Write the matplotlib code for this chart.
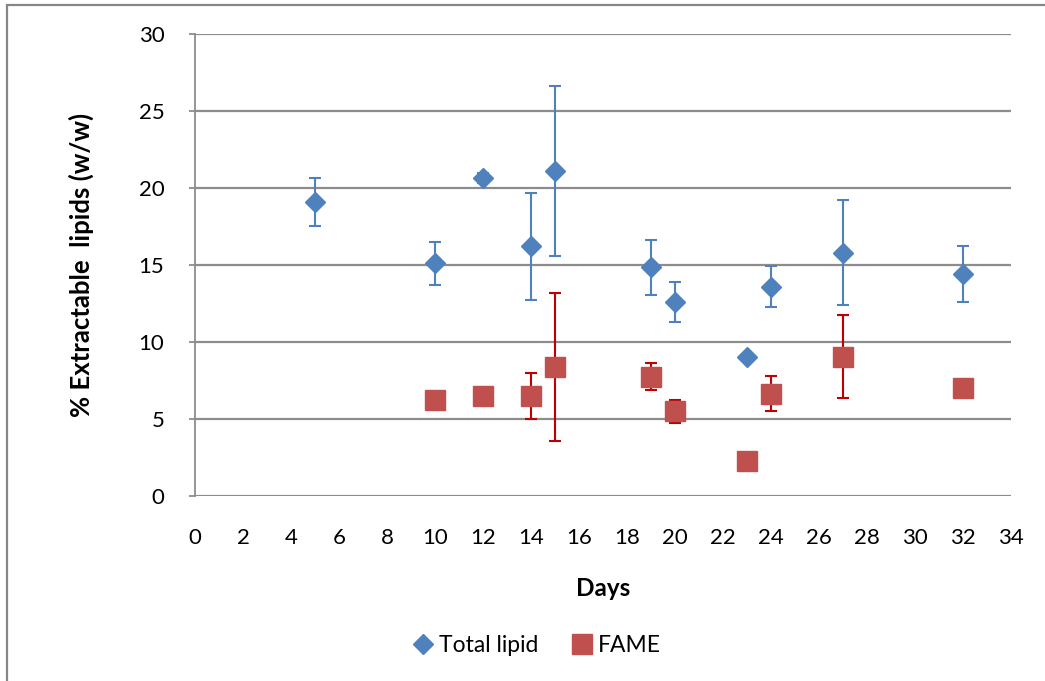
import numpy as np
import matplotlib.pyplot as plt
from matplotlib.patches import Rectangle

plt.rcParams['font.family'] = ['Lato', 'DejaVu Sans']

# total lipid (mean, sd) by day
lipid_days = [5, 10, 12, 14, 15, 19, 20, 23, 24, 27, 32]
lipid_mean = [19.1, 15.1, 20.65, 16.2, 21.1, 14.85, 12.6, 9.05, 13.6, 15.8, 14.4]
lipid_err = [1.55, 1.4, 0.3, 3.5, 5.5, 1.8, 1.3, 0.0, 1.35, 3.4, 1.8]

# FAME (mean, sd) by day
fame_days = [10, 12, 14, 15, 19, 20, 23, 24, 27, 32]
fame_mean = [6.2, 6.5, 6.5, 8.4, 7.75, 5.5, 2.3, 6.65, 9.05, 7.0]
fame_err = [0.0, 0.0, 1.5, 4.8, 0.9, 0.75, 0.0, 1.15, 2.7, 0.35]

xticks = np.arange(0, 35, 2)
yticks = np.arange(0, 31, 5)

blue = '#4F81BD'
red = '#C0504D'

fig = plt.figure(figsize=(10.45, 6.81), dpi=100)
ax = fig.add_axes([0.1866, 0.2717, 0.7809, 0.6784])

# chart border
fig.patches.append(Rectangle((0.0067, -0.05), 1.1, 1.0427, transform=fig.transFigure,
                             fill=False, edgecolor='#878787', linewidth=1.6))

ax.errorbar(lipid_days, lipid_mean, yerr=lipid_err, fmt='D', color=blue,
            markersize=10.2, ecolor=blue, elinewidth=1.5, capsize=4.5, capthick=1.5,
            label='Total lipid', zorder=3)
ax.errorbar(fame_days, fame_mean, yerr=fame_err, fmt='s', color=red,
            markersize=14.4, ecolor='#C00000', elinewidth=1.5, capsize=4.5, capthick=1.5,
            label='FAME', zorder=3)

ax.set_xlim(0, 34)
ax.set_ylim(0, 30)
ax.set_xticks(xticks)
ax.set_yticks(yticks)
ax.grid(axis='y', color='#8C8C8C', linewidth=1.6)
ax.set_axisbelow(True)
for s in ['top', 'right', 'bottom']:
    ax.spines[s].set_visible(False)
ax.spines['left'].set_color('#8C8C8C')
ax.spines['left'].set_linewidth(1.3)
ax.tick_params(axis='x', length=0, pad=23, labelsize=16)
ax.tick_params(axis='y', length=4, color='#8C8C8C', width=1.3, pad=18, labelsize=16)

ax.set_xlabel('Days', fontsize=17.5, fontweight='bold', labelpad=21)
ax.set_ylabel('% Extractable  lipids (w/w)', fontsize=18.5, fontweight='bold', labelpad=32)

handles, labels = ax.get_legend_handles_labels()
handles = [h[0] for h in handles]
fig.legend(handles, labels, loc='center', bbox_to_anchor=(0.512, 0.052), ncol=2,
           frameon=False, fontsize=16.5, handletextpad=0.1, columnspacing=1.3,
           handlelength=1.2)

fig.savefig('out.png', dpi=100)
